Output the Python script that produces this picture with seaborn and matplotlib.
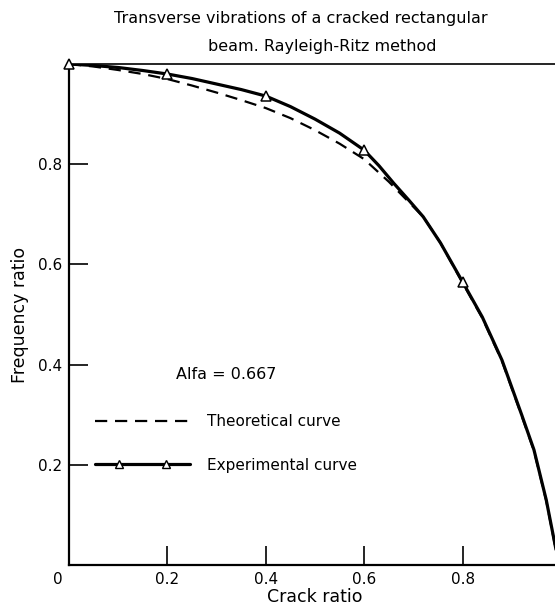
import matplotlib
matplotlib.use("Agg")
import matplotlib.pyplot as plt
import matplotlib.transforms as mtrans
from matplotlib.lines import Line2D
from matplotlib.legend_handler import HandlerLine2D, HandlerTuple
import numpy as np
import pandas as pd
import seaborn as sns

# ---- data ----
crack_exp = [0.0, 0.05, 0.1, 0.15, 0.2, 0.25, 0.3, 0.35, 0.4, 0.45, 0.5,
             0.55, 0.6, 0.63, 0.66, 0.69, 0.72, 0.755, 0.8,
             0.84, 0.88, 0.92, 0.945, 0.97, 0.99]
freq_exp = [1.0, 0.997, 0.993, 0.987, 0.98, 0.971, 0.96, 0.949, 0.936, 0.915,
            0.89, 0.862, 0.828, 0.797, 0.762, 0.729, 0.695, 0.643,
            0.565, 0.495, 0.409, 0.30, 0.23, 0.13, 0.03]
exp_marker_crack = [0.0, 0.2, 0.4, 0.6, 0.8]

crack_theo = [0.0, 0.05, 0.1, 0.15, 0.2, 0.25, 0.3, 0.35, 0.4, 0.45, 0.5,
              0.55, 0.6, 0.65, 0.7, 0.72, 0.755, 0.8,
              0.84, 0.88, 0.92, 0.945, 0.97, 0.99]
freq_theo = [1.0, 0.995, 0.988, 0.980, 0.97, 0.957, 0.943, 0.928, 0.912,
             0.892, 0.868, 0.841, 0.81, 0.765, 0.715, 0.695,
             0.643, 0.563, 0.493, 0.407, 0.298, 0.228, 0.128, 0.028]

x_ticks = [0, 0.2, 0.4, 0.6, 0.8]
x_tick_labels = ["0", "0.2", "0.4", "0.6", "0.8"]
y_ticks = [0.2, 0.4, 0.6, 0.8]
y_tick_labels = ["0.2", "0.4", "0.6", "0.8"]

title_line1 = "Transverse vibrations of a cracked rectangular"
title_line2 = "beam. Rayleigh-Ritz method"
legend_title = "Alfa = 0.667"
label_theo = "Theoretical curve"
label_exp = "Experimental curve"

# ---- style ----
sns.set_style("ticks")
plt.rcParams["font.family"] = ["DejaVu Sans"]
plt.rcParams["text.color"] = "black"
plt.rcParams["axes.labelcolor"] = "black"

W, H, DPI = 555, 607, 100
fig = plt.figure(figsize=(W / DPI, H / DPI), dpi=DPI)
left_px, right_px, bottom_px, top_px = 69, 561, 565, 64
ax = fig.add_axes([left_px / W, 1 - bottom_px / H,
                   (right_px - left_px) / W, (bottom_px - top_px) / H])

df_exp = pd.DataFrame({"crack": crack_exp, "freq": freq_exp})
df_theo = pd.DataFrame({"crack": crack_theo, "freq": freq_theo})

dash = (0, (5.5, 3.5))
sns.lineplot(data=df_theo, x="crack", y="freq", ax=ax, color="black",
             linewidth=1.6, linestyle=dash, sort=False, estimator=None)
sns.lineplot(data=df_exp, x="crack", y="freq", ax=ax, color="black",
             linewidth=2.3, sort=False, estimator=None)
mk = df_exp[df_exp["crack"].isin(exp_marker_crack)]
ax.plot(mk["crack"], mk["freq"], linestyle="none", marker="^",
        markersize=7, markerfacecolor="white", markeredgecolor="black",
        markeredgewidth=1.1, zorder=5, clip_on=False)

ax.set_xlim(0, 1.0)
ax.set_ylim(0, 1.0)
ax.set_xticks(x_ticks)
ax.set_xticklabels(x_tick_labels)
ax.set_yticks(y_ticks)
ax.set_yticklabels(y_tick_labels)
ax.tick_params(direction="in", length=14, width=1.2, labelsize=11, pad=5,
               color="black", labelcolor="black", bottom=True, left=True,
               top=False, right=False)
for side in ["left", "bottom"]:
    ax.spines[side].set_linewidth(1.6)
    ax.spines[side].set_color("black")
ax.spines["top"].set_linewidth(1.2)
ax.spines["top"].set_color("black")
ax.spines["right"].set_visible(False)

# shift the origin "0" label to the left of the corner
zero_lab = ax.get_xticklabels()[0]
zero_lab.set_transform(zero_lab.get_transform() +
                       mtrans.ScaledTranslation(-0.11, 0, fig.dpi_scale_trans))

ax.set_xlabel("Crack ratio", fontsize=12.5, labelpad=1)
ax.set_ylabel("Frequency ratio", fontsize=12.5, labelpad=6)

fig.text(301 / W, 1 - 19 / H, title_line1, ha="center", va="center",
         fontsize=11.5, color="black")
fig.text(322 / W, 1 - 46 / H, title_line2, ha="center", va="center",
         fontsize=11.5, color="black")

# ---- legend ----
h_theo = Line2D([], [], color="black", linewidth=1.6, linestyle=dash)
h_exp_line = Line2D([], [], color="black", linewidth=2.3)
h_exp_mk = Line2D([], [], linestyle="none", marker="^", markersize=6,
                  markerfacecolor="white", markeredgecolor="black",
                  markeredgewidth=1.0)
hl = 6.2
leg = ax.legend([h_theo, (h_exp_line, h_exp_mk)], [label_theo, label_exp],
                title=legend_title, loc="upper left",
                bbox_to_anchor=(0.053, 0.395), frameon=False, fontsize=11,
                title_fontsize=11.5, handlelength=hl, handletextpad=1.1,
                labelspacing=1.88, borderpad=0, borderaxespad=0,
                handler_map={
                    h_exp_mk: HandlerLine2D(numpoints=2,
                                            marker_pad=0.25 * hl),
                    tuple: HandlerTuple(ndivide=1, pad=0),
                })
leg._legend_box.sep = 23
for t in leg.get_texts():
    t.set_color("black")
leg.get_title().set_color("black")

fig.savefig("out.png", dpi=DPI)
